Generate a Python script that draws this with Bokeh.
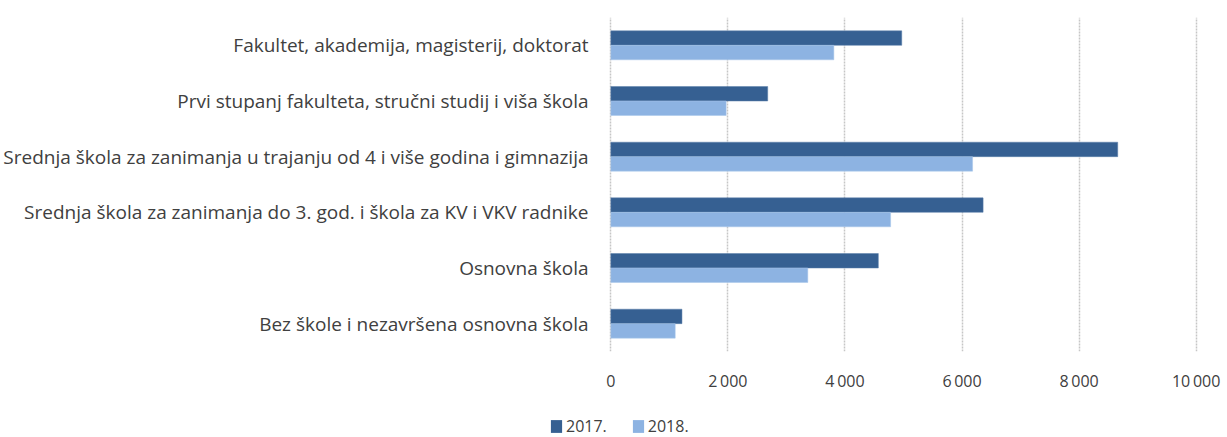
from bokeh.plotting import figure
from bokeh.models import ColumnDataSource, FactorRange, Legend, LegendItem, FixedTicker, CustomJSTickFormatter
from bokeh.transform import dodge
from bokeh.embed import file_html
from bokeh.resources import INLINE

categories = [
    "Fakultet, akademija, magisterij, doktorat",
    "Prvi stupanj fakulteta, stručni studij i viša škola",
    "Srednja škola za zanimanja u trajanju od 4 i više godina i gimnazija",
    "Srednja škola za zanimanja do 3. god. i škola za KV i VKV radnike",
    "Osnovna škola",
    "Bez škole i nezavršena osnovna škola",
]
values_2017 = [4970, 2680, 8660, 6360, 4570, 1215]
values_2018 = [3810, 1970, 6180, 4780, 3365, 1100]
series_names = ["2017.", "2018."]
x_ticks = [0, 2000, 4000, 6000, 8000, 10000]
colors = ["#366092", "#8db3e2"]

FONT = "Open Sans"
TXT = "#404040"
src = ColumnDataSource(dict(cat=categories, v17=values_2017, v18=values_2018))

p = figure(width=1227, height=407, output_backend="svg", toolbar_location=None,
           y_range=FactorRange(*reversed(categories)), x_range=(-40, 10040),
           min_border_left=606, min_border_right=29, min_border_top=17, min_border_bottom=56)
p.outline_line_color = None

r1 = p.hbar(y=dodge("cat", 0.13, range=p.y_range), right="v17", left=0, height=0.26,
            source=src, fill_color=colors[0], line_color="#5a7fab", line_width=0.5)
r2 = p.hbar(y=dodge("cat", -0.13, range=p.y_range), right="v18", left=0, height=0.26,
            source=src, fill_color=colors[1], line_color="#a9c6ea", line_width=0.5)

p.xaxis.ticker = FixedTicker(ticks=x_ticks)
p.xaxis.formatter = CustomJSTickFormatter(code="return tick >= 1000 ? Math.floor(tick/1000) + '\u2009' + String(tick % 1000).padStart(3,'0') : String(tick);")
for ax in (p.xaxis, p.yaxis):
    ax.axis_line_color = None
    ax.major_tick_line_color = None
    ax.minor_tick_line_color = None
    ax.major_label_text_font = FONT
    ax.major_label_text_font_size = "16px"
    ax.major_label_text_color = TXT
p.yaxis.major_label_text_font_size = "19px"
p.yaxis.major_label_standoff = 14
p.xaxis.major_label_standoff = 12

p.ygrid.grid_line_color = None
p.xgrid.grid_line_color = "#c6c6c6"
p.xgrid.grid_line_width = 1.5
p.xgrid.grid_line_dash = "2 1"

# legend strip below the chart (separate root so its frame spans the full width)
lg = figure(width=1227, height=30, output_backend="svg", toolbar_location=None,
            x_range=(0, 1), y_range=(0, 1), min_border=0)
lg.axis.visible = False
lg.grid.visible = False
lg.outline_line_color = None
# zero-size proxies: they only carry the legend swatch style
d1 = lg.rect(x=[0], y=[0], width=0, height=0, fill_color=colors[0], line_color=None)
d2 = lg.rect(x=[0], y=[0], width=0, height=0, fill_color=colors[1], line_color=None)
legend = Legend(items=[LegendItem(label=series_names[0], renderers=[d1]),
                       LegendItem(label=series_names[1], renderers=[d2])],
                orientation="horizontal", location=(549, 0),
                label_text_font=FONT, label_text_font_size="16px", label_text_color=TXT,
                glyph_width=14, glyph_height=16, label_standoff=3, spacing=24,
                label_height=18, padding=0, margin=0, border_line_color=None,
                background_fill_alpha=0)
lg.add_layout(legend, "center")

open("out.html", "w").write(file_html([p, lg], INLINE))
